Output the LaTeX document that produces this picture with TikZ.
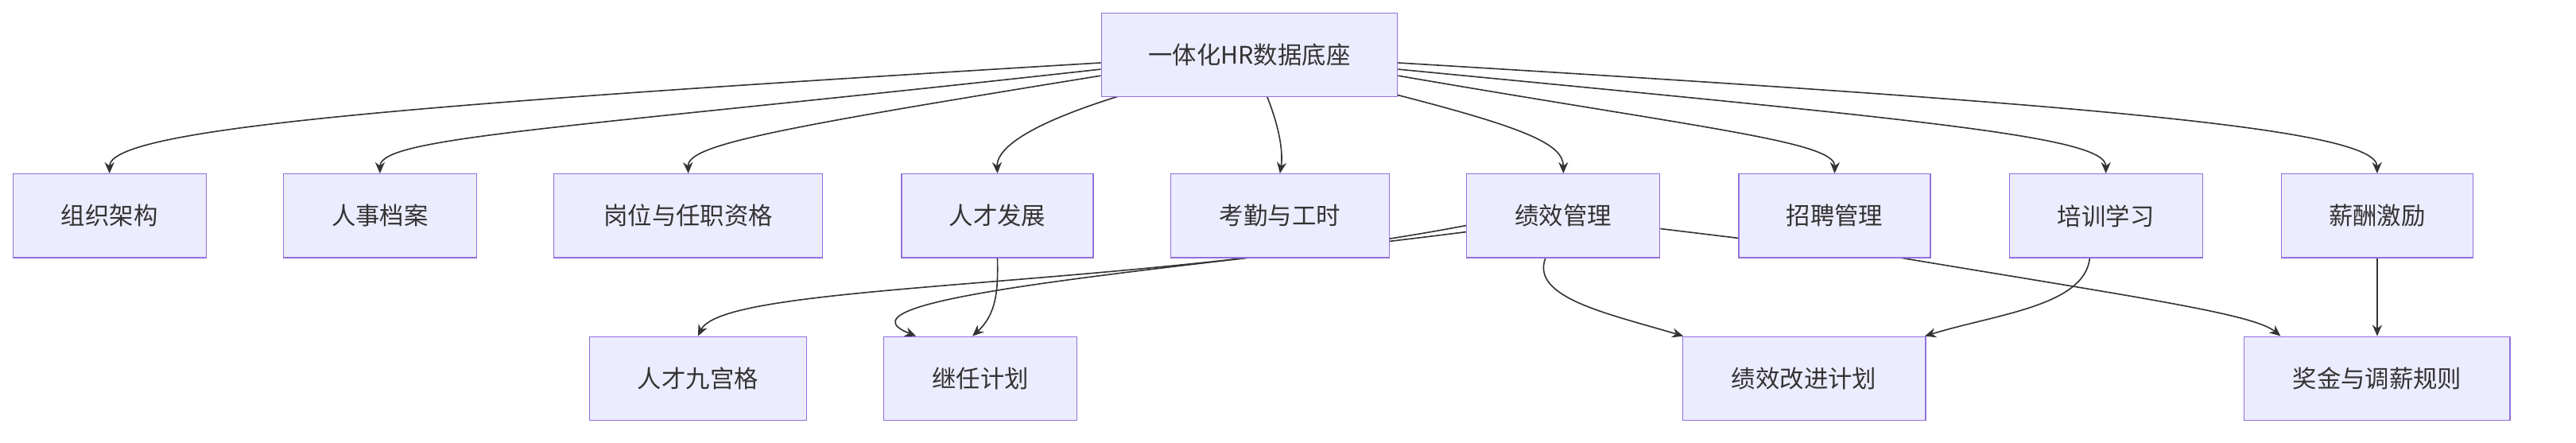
\documentclass[tikz,border=0pt]{standalone}
\usepackage{fontspec}
\newfontfamily\cjk{Noto Sans CJK SC}
\usetikzlibrary{arrows.meta,backgrounds}
\definecolor{boxfill}{HTML}{ECECFF}
\definecolor{boxline}{HTML}{9370DB}
\definecolor{edge}{HTML}{333333}
\begin{document}
\begin{tikzpicture}[x=1pt,y=-1pt,
  box/.style={draw=boxline,fill=boxfill,line width=0.6pt,minimum height=52pt,font=\cjk\fontsize{15}{18}\selectfont,text=edge,inner sep=0pt},
  link/.style={draw=edge,line width=0.8pt,-{Stealth[length=7pt,width=6pt]}}]
\useasboundingbox (0,0) rectangle (1600,274.6);
\node[box,minimum width=184pt] (top) at (776,34) {一体化HR数据底座};
\node[box,minimum width=120pt] (a1) at (68,134) {组织架构};
\node[box,minimum width=120pt] (a2) at (236,134) {人事档案};
\node[box,minimum width=167pt] (a3) at (427.5,134) {岗位与任职资格};
\node[box,minimum width=119pt] (a4) at (619.5,134) {人才发展};
\node[box,minimum width=136pt] (a5) at (795,134) {考勤与工时};
\node[box,minimum width=120pt] (a6) at (971,134) {绩效管理};
\node[box,minimum width=119pt] (a7) at (1139.5,134) {招聘管理};
\node[box,minimum width=120pt] (a8) at (1308,134) {培训学习};
\node[box,minimum width=119pt] (a9) at (1476.5,134) {薪酬激励};
\node[box,minimum width=135pt] (b1) at (433.5,235) {人才九宫格};
\node[box,minimum width=120pt] (b2) at (609,235) {继任计划};
\node[box,minimum width=151pt] (b3) at (1120.5,235) {绩效改进计划};
\node[box,minimum width=165pt] (b4) at (1476.5,235) {奖金与调薪规则};
\begin{scope}[on background layer]
\draw[link] (top.west|-0,39) .. controls (250,65) and (68,80) .. (a1.north);
\draw[link] (top.west|-0,43) .. controls (350,80) and (236,85) .. (a2.north);
\draw[link] (top.west|-0,47) .. controls (480,80) and (427,90) .. (a3.north);
\draw[link] (694,60) .. controls (630,80) and (619,95) .. (a4.north);
\draw[link] (787,60) .. controls (795,80) and (797,95) .. (a5.north);
\draw[link] (868,59) .. controls (950,80) and (971,90) .. (a6.north);
\draw[link] (top.east|-0,47) .. controls (1060,80) and (1140,88) .. (a7.north);
\draw[link] (top.east|-0,43) .. controls (1200,75) and (1308,85) .. (a8.north);
\draw[link] (top.east|-0,39) .. controls (1300,65) and (1476,80) .. (a9.north);
\draw[link] (a4.south) .. controls (620,180) and (619,195) .. ([xshift=-5pt]b2.north);
\draw[link] (a6.west|-0,140) .. controls (700,180) and (450,175) .. (b1.north);
\draw[link] (a6.west|-0,144) .. controls (720,168) and (510,185) .. ([xshift=-40pt]b2.north);
\draw[link] (960,160) .. controls (950,185) and (1000,195) .. ([xshift=-75pt]b3.north);
\draw[link] (1298,160) .. controls (1295,190) and (1240,195) .. ([xshift=75pt]b3.north);
\draw[link] (a6.east|-0,142) -- (1180,160) .. controls (1330,185) and (1400,195) .. ([xshift=-60pt]b4.north);
\draw[link] (a9.south) -- (a9.south|-b4.north);
\end{scope}
\end{tikzpicture}
\end{document}
